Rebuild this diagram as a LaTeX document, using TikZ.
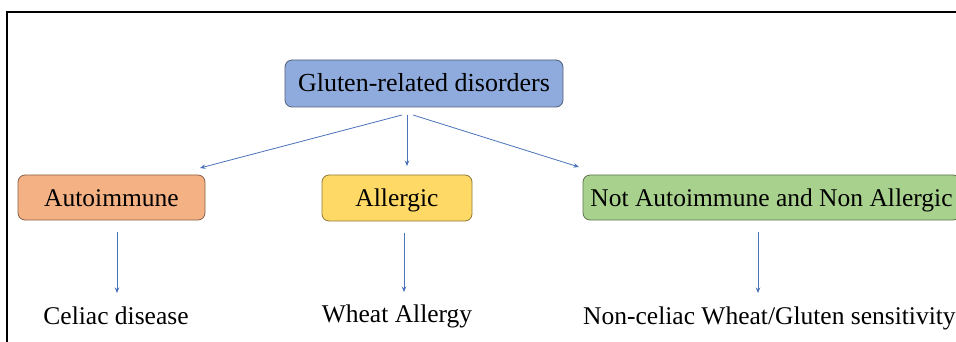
\documentclass[tikz,border=0pt]{standalone}
\usepackage{fontspec}
\setmainfont{Liberation Serif}
\usetikzlibrary{arrows.meta}
\definecolor{bluebox}{HTML}{8FAADC}
\definecolor{orangebox}{HTML}{F4B183}
\definecolor{yellowbox}{HTML}{FFD966}
\definecolor{greenbox}{HTML}{A9D18E}
\definecolor{arrowblue}{HTML}{4A72B8}
\begin{document}
\begin{tikzpicture}[x=1pt,y=-1pt,
  catbox/.style={draw=#1!55!black, fill=#1, line width=0.8pt, rounded corners=7pt,
    inner sep=0pt, text height=17pt, text depth=0pt,
    font=\fontsize{25.5}{30}\selectfont},
  lbl/.style={inner sep=0pt, anchor=base, font=\fontsize{25.5}{30}\selectfont},
  link/.style={draw=arrowblue, line width=0.8pt, -{Stealth[length=5.5pt,width=4.5pt]}}
]
\useasboundingbox (0,0) rectangle (956,342);
\begin{scope}
\clip (0,0) rectangle (956,342);
% frame
\draw[line width=2.5pt] (7,350) -- (7,12) -- (970,12);
% boxes
\node[catbox=bluebox, minimum width=278pt, minimum height=47pt, font=\fontsize{26}{30}\selectfont] (root) at (424,83.5) {Gluten-related disorders};
\node[catbox=orangebox, minimum width=187pt, minimum height=45pt] (auto) at (111.5,197.5) {Autoimmune};
\node[catbox=yellowbox, minimum width=150pt, minimum height=46pt] (allg) at (397,198) {Allergic};
\node[catbox=greenbox, minimum width=377pt, minimum height=45pt] (nonall) at (771.5,197.5) {Not Autoimmune and Non Allergic};
% outcome labels
\node[lbl] (celiac) at (116,324) {Celiac disease};
\node[lbl] (wheat) at (397,322) {Wheat Allergy};
\node[lbl, anchor=base west] (ncgs) at (583,324) {Non-celiac Wheat/Gluten sensitivity};
% arrow end points
\coordinate (r1) at (402,115);
\coordinate (r2) at (407,115);
\coordinate (r3) at (413,115);
\coordinate (e1) at (200,168);
\coordinate (e2) at (407,166);
\coordinate (e3) at (579,167);
\coordinate (a1) at (117,232);
\coordinate (a2) at (117,293);
\coordinate (b1) at (404,233);
\coordinate (b2) at (404,292);
\coordinate (c1) at (758,232);
\coordinate (c2) at (758,293);
\draw[link] (r1) -- (e1);
\draw[link] (r2) -- (e2);
\draw[link] (r3) -- (e3);
\draw[link] (a1) -- (a2);
\draw[link] (b1) -- (b2);
\draw[link] (c1) -- (c2);
\end{scope}
\end{tikzpicture}
\end{document}
